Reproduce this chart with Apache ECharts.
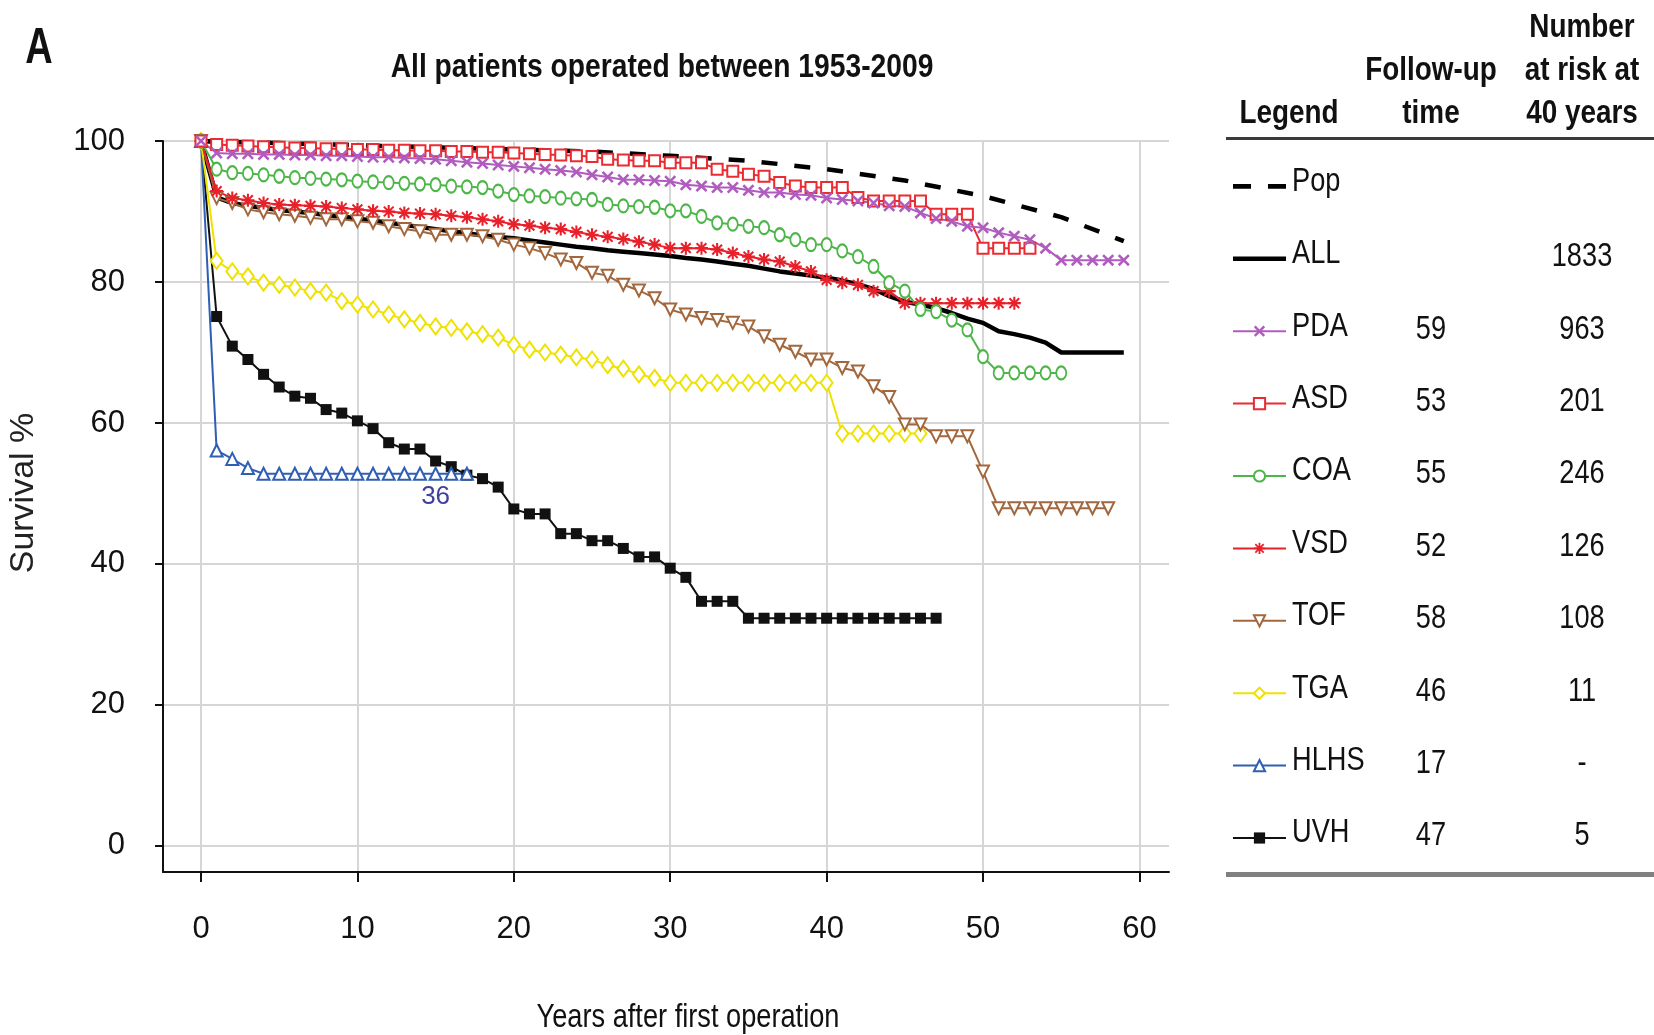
<!DOCTYPE html>
<html>
<head>
<meta charset="utf-8">
<title>All patients operated between 1953-2009</title>
<script src="https://cdn.jsdelivr.net/npm/echarts@6/dist/echarts.min.js"></script>
<style>
  html, body { margin: 0; padding: 0; background: #fff; }
  #chartId { width: 1654px; height: 1035px; }
</style>
</head>
<body>
<div id="chartId"></div>
<script>
// population reference curve (dashed), read at a few years
const popYears = [0, 5, 10, 15, 20, 25, 30, 35, 40, 45, 50, 55, 59];
const popValues = [100, 99.7, 99.4, 99.1, 98.8, 98.5, 97.9, 97.2, 96.0, 94.4, 92.2, 89.2, 85.8];

// the other curves: one value per year, index = years after first operation
const allValues = [100, 92.0, 91.2, 90.8, 90.5, 90.2, 90.0, 89.8, 89.5, 89.3, 89.0, 88.7, 88.4, 88.1, 87.8,
  87.5, 87.2, 86.9, 86.6, 86.4, 86.2, 85.9, 85.6, 85.3, 85.0, 84.8, 84.5, 84.3, 84.1, 83.9, 83.7, 83.4, 83.2,
  82.9, 82.6, 82.3, 81.9, 81.5, 81.2, 80.9, 80.6, 80.2, 79.7, 79.0, 78.0, 77.2, 76.8, 76.3, 75.6, 74.8, 74.2,
  73.0, 72.6, 72.1, 71.4, 70.0, 70.0, 70.0, 70.0, 70.0];
const pdaValues = [100, 98.3, 98.2, 98.2, 98.1, 98.1, 98.0, 98.0, 97.9, 97.9, 97.8, 97.7, 97.7, 97.6, 97.5,
  97.4, 97.2, 97.0, 96.8, 96.6, 96.4, 96.2, 96.0, 95.8, 95.6, 95.2, 94.9, 94.5, 94.5, 94.4, 94.3, 93.8, 93.6,
  93.4, 93.4, 93.0, 92.7, 92.7, 92.4, 92.3, 91.9, 91.7, 91.5, 91.2, 90.8, 90.7, 89.8, 89.0, 88.6, 87.9, 87.7,
  87.0, 86.5, 86.0, 84.8, 83.1, 83.1, 83.1, 83.1, 83.1];
const asdValues = [100, 99.5, 99.4, 99.3, 99.2, 99.1, 99.0, 99.0, 98.9, 98.9, 98.8, 98.8, 98.7, 98.7, 98.6,
  98.6, 98.5, 98.5, 98.4, 98.4, 98.3, 98.2, 98.1, 98.0, 97.9, 97.8, 97.4, 97.3, 97.2, 97.2, 96.9, 96.9, 96.9,
  96.0, 95.7, 95.3, 95.0, 94.1, 93.6, 93.4, 93.4, 93.4, 92.0, 91.5, 91.5, 91.5, 91.5, 89.6, 89.6, 89.6, 84.8,
  84.8, 84.8, 84.8];
const coaValues = [100, 96.0, 95.5, 95.4, 95.2, 95.0, 94.8, 94.7, 94.6, 94.5, 94.3, 94.2, 94.1, 94.0, 93.9,
  93.8, 93.6, 93.5, 93.4, 92.9, 92.4, 92.2, 92.1, 91.9, 91.8, 91.7, 91.0, 90.8, 90.7, 90.6, 90.1, 90.1, 89.3,
  88.4, 88.2, 87.9, 87.7, 86.7, 86.0, 85.3, 85.3, 84.4, 83.6, 82.2, 79.9, 78.7, 76.1, 75.8, 74.6, 73.2, 69.4,
  67.1, 67.1, 67.1, 67.1, 67.1];
const vsdValues = [100, 92.9, 91.9, 91.6, 91.2, 91.0, 90.9, 90.8, 90.7, 90.5, 90.3, 90.1, 90.0, 89.8, 89.7,
  89.6, 89.4, 89.2, 88.9, 88.6, 88.2, 88.0, 87.7, 87.5, 87.1, 86.7, 86.4, 86.1, 85.7, 85.3, 84.8, 84.8, 84.8,
  84.6, 84.1, 83.6, 83.2, 82.9, 82.2, 81.5, 80.3, 79.9, 79.6, 78.7, 78.7, 77.0, 77.0, 77.0, 77.0, 77.0, 77.0,
  77.0, 77.0];
const tofValues = [100, 91.9, 91.2, 90.3, 89.9, 89.6, 89.4, 89.1, 88.9, 88.9, 88.6, 88.4, 87.9, 87.5, 87.2,
  86.7, 86.7, 86.7, 86.5, 86.0, 85.3, 84.8, 84.1, 83.2, 82.7, 81.3, 80.9, 79.6, 78.8, 77.7, 76.1, 75.4, 74.9,
  74.6, 74.2, 73.7, 72.3, 71.1, 70.1, 69.0, 69.0, 67.8, 67.3, 65.2, 63.7, 59.8, 59.8, 58.1, 58.1, 58.1, 53.1,
  47.9, 47.9, 47.9, 47.9, 47.9, 47.9, 47.9, 47.9];
const tgaValues = [100, 83.0, 81.5, 80.8, 79.9, 79.6, 79.2, 78.7, 78.5, 77.3, 76.8, 76.1, 75.4, 74.7, 74.2,
  73.7, 73.5, 73.0, 72.6, 72.1, 71.1, 70.4, 70.0, 69.7, 69.3, 69.0, 68.2, 67.7, 66.9, 66.4, 65.7, 65.7, 65.7,
  65.7, 65.7, 65.7, 65.7, 65.7, 65.7, 65.7, 65.7, 58.5, 58.5, 58.5, 58.5, 58.5, 58.5];
const hlhsValues = [100, 56.1, 54.9, 53.6, 52.8, 52.8, 52.8, 52.8, 52.8, 52.8, 52.8, 52.8, 52.8, 52.8, 52.8,
  52.8, 52.8, 52.8];
const uvhValues = [100, 75.1, 70.9, 69.0, 66.9, 65.1, 63.8, 63.5, 61.9, 61.4, 60.3, 59.2, 57.2, 56.3, 56.3,
  54.6, 53.8, 52.6, 52.1, 50.9, 47.8, 47.1, 47.1, 44.3, 44.3, 43.3, 43.3, 42.2, 41.0, 41.0, 39.4, 38.1, 34.7,
  34.7, 34.7, 32.3, 32.3, 32.3, 32.3, 32.3, 32.3, 32.3, 32.3, 32.3, 32.3, 32.3, 32.3, 32.3];

// "36" written under the HLHS curve
const hlhsNote = '36';
const hlhsNoteAt = [15, 49.5];

// axes
const xTicks = [0, 10, 20, 30, 40, 50, 60];
const yTicks = [0, 20, 40, 60, 80, 100];

// table on the right
const legendNames = ['Pop', 'ALL', 'PDA', 'ASD', 'COA', 'VSD', 'TOF', 'TGA', 'HLHS', 'UVH'];
const followUp = ['', '', '59', '53', '55', '52', '58', '46', '17', '47'];
const atRisk = ['', '1833', '963', '201', '246', '126', '108', '11', '-', '5'];

// no narrow font installed: Liberation Sans squeezed horizontally stands in for it
const FONT = "'Liberation Sans',Arial,sans-serif";
const NARROW = 0.8;
const SYM_X = 'path://M0,1.5 L1.5,0 L5,3.5 L8.5,0 L10,1.5 L6.5,5 L10,8.5 L8.5,10 L5,6.5 L1.5,10 L0,8.5 L3.5,5 Z';
const SYM_STAR = 'path://M4.2,0 L5.8,0 L5.8,10 L4.2,10 Z M0,4.2 L10,4.2 L10,5.8 L0,5.8 Z '
  + 'M0.7,1.8 L1.8,0.7 L9.3,8.2 L8.2,9.3 Z M8.2,0.7 L9.3,1.8 L1.8,9.3 L0.7,8.2 Z';

function toPoints(values) {
  return values.map((v, i) => [i, v]);
}

/**
 * a curve with one marker per year
 */
function markedLine(name, values, color, symbol, size, extra) {
  return Object.assign({
    name: name,
    type: 'line',
    data: toPoints(values),
    symbol: symbol,
    symbolSize: size,
    showSymbol: true,
    showAllSymbol: true,
    color: color,
    lineStyle: { color: color, width: 2 },
    itemStyle: { color: color, borderWidth: 1.8 },
    emphasis: { disabled: true }
  }, extra || {});
}

/**
 * squeezed text drawn by the graphic component
 */
function txt(text, x, y, size, weight, align, sx) {
  return {
    type: 'text', x: x, y: y, scaleX: sx || NARROW, silent: true,
    style: {
      text: text, font: weight + ' ' + size + 'px ' + FONT, fill: '#111',
      align: align || 'center', verticalAlign: 'middle',
      textAlign: align || 'center', textVerticalAlign: 'middle'
    }
  };
}

let chart = echarts.init(document.getElementById('chartId'));

// table: headers, rules, names and the two number columns
const rowTop = 181.4, rowStep = 72.4;
let graphics = [
  txt('A', 39, 49, 50, 'bold', 'center', 0.76),
  txt('All patients operated between 1953-2009', 662, 68, 34, 'bold', 'center', 0.83),
  txt('Years after first operation', 688, 1018, 34, 'normal'),
  {
    type: 'text', x: 24, y: 493, rotation: Math.PI / 2, silent: true,
    style: {
      text: 'Survival %', font: 'normal 34px ' + FONT, fill: '#222',
      align: 'center', verticalAlign: 'middle', textAlign: 'center', textVerticalAlign: 'middle'
    }
  },
  txt('Legend', 1289, 114, 34, 'bold', 'center', 0.82),
  txt('Follow-up', 1431, 71, 34, 'bold', 'center', 0.82),
  txt('time', 1431, 114, 34, 'bold', 'center', 0.82),
  txt('Number', 1582, 28, 34, 'bold', 'center', 0.82),
  txt('at risk at', 1582, 71, 34, 'bold', 'center', 0.82),
  txt('40 years', 1582, 114, 34, 'bold', 'center', 0.82),
  { type: 'rect', silent: true, shape: { x: 1226, y: 137, width: 428, height: 3 }, style: { fill: '#3a3a3a' } },
  { type: 'rect', silent: true, shape: { x: 1226, y: 872, width: 428, height: 5 }, style: { fill: '#808080' } }
];
legendNames.forEach((n, i) => {
  const y = rowTop + i * rowStep;
  graphics.push(txt(n, 1292, y, 34, 'normal', 'left'));
  if (followUp[i]) graphics.push(txt(followUp[i], 1431, y + 3, 34, 'normal'));
  if (atRisk[i]) graphics.push(txt(atRisk[i], 1582, y + 3, 34, 'normal'));
});

let option = {
  animation: false,
  backgroundColor: '#fff',
  grid: { left: 163, top: 141, width: 1006, height: 731, containLabel: false },
  xAxis: {
    type: 'value', min: -2.43, max: 61.89,
    axisLine: { show: true, onZero: false, lineStyle: { color: '#111', width: 2 } },
    axisTick: { show: true, customValues: xTicks, length: 10, inside: false, lineStyle: { color: '#111', width: 2 } },
    axisLabel: { customValues: xTicks, fontSize: 31, fontFamily: FONT, color: '#111', margin: 42 },
    splitLine: { show: true, lineStyle: { color: '#d6d6d6', width: 2 } }
  },
  yAxis: {
    type: 'value', min: -3.7, max: 100,
    axisLine: { show: true, onZero: false, lineStyle: { color: '#111', width: 2 } },
    axisTick: { show: true, customValues: yTicks, length: 8, inside: false, lineStyle: { color: '#111', width: 2 } },
    axisLabel: { customValues: yTicks, fontSize: 31, fontFamily: FONT, color: '#111', margin: 38 },
    splitLine: { show: true, lineStyle: { color: '#d6d6d6', width: 2 } }
  },
  // icons only, the names are written by the graphic list above
  legend: {
    orient: 'vertical', left: 1227, top: rowTop - 20,
    itemWidth: 53, itemHeight: 14, itemGap: rowStep - 40,
    selectedMode: false,
    formatter: () => ' ',
    textStyle: { fontSize: 34, lineHeight: 40, fontFamily: FONT, color: '#111' },
    data: [
      { name: 'Pop', icon: 'path://M0,0 L17,0 L17,4.5 L0,4.5 Z M33,0 L50,0 L50,4.5 L33,4.5 Z' },
      { name: 'ALL', icon: 'path://M0,0 L53,0 L53,4.5 L0,4.5 Z' },
      'PDA', 'ASD', 'COA', 'VSD', 'TOF', 'TGA', 'HLHS', 'UVH'
    ]
  },
  graphic: graphics,
  series: [
    {
      name: 'ALL', type: 'line', data: toPoints(allValues), symbol: 'none', color: '#000',
      lineStyle: { color: '#000', width: 4.5 }, itemStyle: { color: '#000' }, emphasis: { disabled: true }
    },
    markedLine('UVH', uvhValues, '#111111', 'rect', 11),
    markedLine('HLHS', hlhsValues, '#2f5fb3', 'emptyTriangle', 12, {
      markPoint: {
        silent: true, symbol: 'circle', symbolSize: 1, itemStyle: { color: 'rgba(0,0,0,0)' },
        data: [{ coord: hlhsNoteAt }],
        label: { show: true, position: 'inside', formatter: hlhsNote, fontSize: 26, fontFamily: FONT, color: '#42409b' }
      }
    }),
    markedLine('TGA', tgaValues, '#efe200', 'emptyDiamond', [12, 16]),
    markedLine('TOF', tofValues, '#a2673d', 'emptyTriangle', 12, { symbolRotate: 180 }),
    markedLine('VSD', vsdValues, '#e8202a', SYM_STAR, 13),
    markedLine('COA', coaValues, '#4cb648', 'emptyCircle', [10, 13]),
    markedLine('ASD', asdValues, '#ea2b31', 'emptyRect', 11),
    markedLine('PDA', pdaValues, '#b05cbf', SYM_X, 12),
    {
      name: 'Pop', type: 'line', data: popYears.map((y, i) => [y, popValues[i]]), symbol: 'none', color: '#000',
      lineStyle: { color: '#000', width: 4.5, type: [16, 17] }, itemStyle: { color: '#000' },
      emphasis: { disabled: true }
    }
  ]
};

chart.setOption(option);
</script>
</body>
</html>
